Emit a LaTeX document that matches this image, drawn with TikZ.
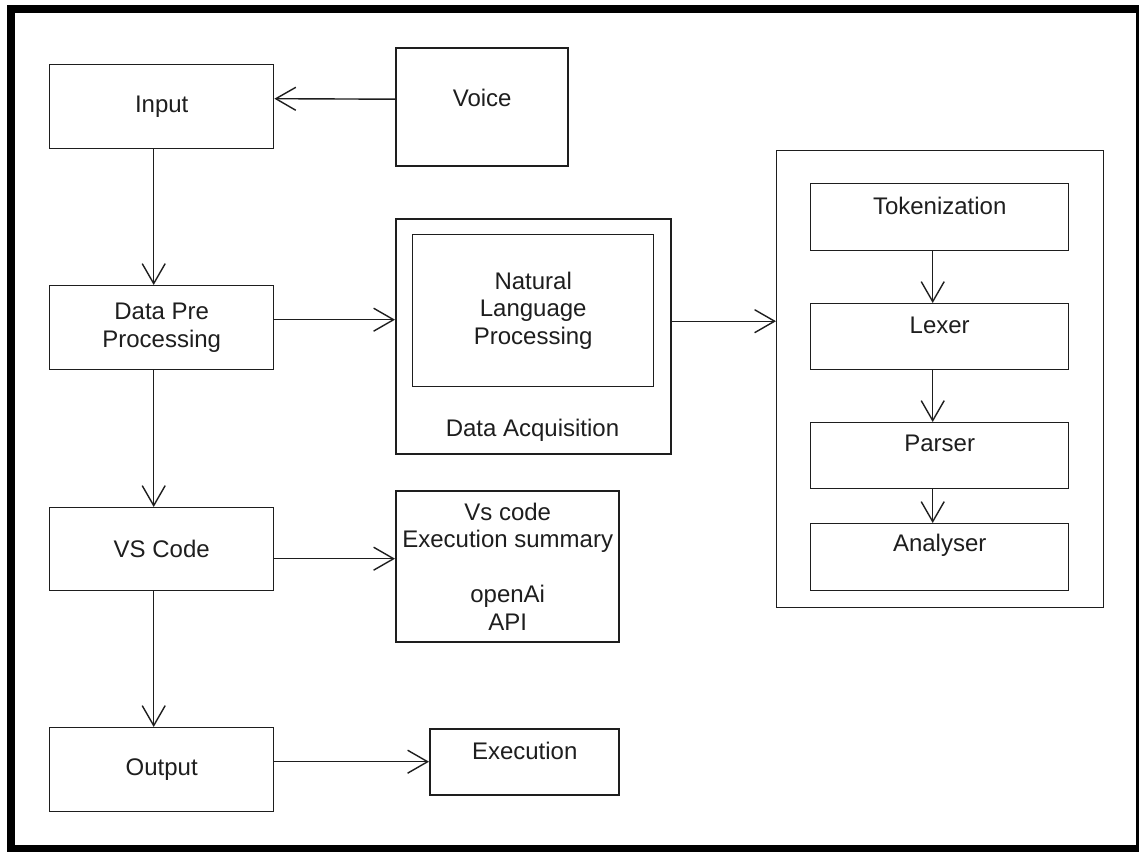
\documentclass[tikz,border=0pt]{standalone}
\usepackage{fontspec}
\setmainfont{Liberation Sans}
\usetikzlibrary{arrows.meta}
\definecolor{ink}{HTML}{1E1E1E}
\tikzset{
  box/.style={draw=ink, line width=1.4pt, rectangle, inner sep=0pt, anchor=north west, align=center, text=ink},
  boxb/.style={box, line width=2.4pt},
  txt/.style={inner sep=0pt, align=center, text=ink},
  arr/.style={draw=ink, line width=1.4pt, -{Straight Barb[length=20pt,width=23pt,line width=1.4pt]}},
}
\begin{document}
\begin{tikzpicture}[x=1pt,y=-1pt, font=\fontsize{24}{27.5}\selectfont]
\useasboundingbox (0,0) rectangle (1139,851);
\fill[white] (0,0) rectangle (1139,851);

% left column
\node[box, minimum width=224pt, minimum height=84pt] (input) at (49,64) {Input};
\node[box, minimum width=224pt, minimum height=84pt] (dpp) at (49,285) {Data Pre\\Processing};
\node[box, minimum width=224pt, minimum height=83pt] (vs) at (49,507) {VS Code};
\node[box, minimum width=224pt, minimum height=84pt] (out) at (49,727) {Output};

% voice
\node[boxb, minimum width=172pt, minimum height=118pt] (voice) at (395,47) {};
\node[txt] (voicet) at ([yshift=9pt]voice.center) {Voice};

% data acquisition
\node[boxb, minimum width=275pt, minimum height=235pt] (da) at (395,218) {};
\node[box, minimum width=241pt, minimum height=152pt] (nlp) at (412,234) {Natural\\Language\\Processing};
\node[txt] (dat) at (532.5,430) {Data Acquisition};

% vs code summary
\node[boxb, minimum width=223pt, minimum height=151pt] (sum) at (395,490) {Vs code\\Execution summary\\[27.5pt]openAi\\API};

% execution
\node[boxb, minimum width=189pt, minimum height=66pt] (exe) at (429,728) {};
\node[txt] (exet) at ([yshift=11pt]exe.center) {Execution};

% right container
\node[box, minimum width=327pt, minimum height=457pt] (cont) at (776,150) {};
\node[box, minimum width=258pt, minimum height=67pt] (tok) at (810,183) {};
\node[box, minimum width=258pt, minimum height=66pt] (lex) at (810,303) {};
\node[box, minimum width=258pt, minimum height=66pt] (par) at (810,422) {};
\node[box, minimum width=258pt, minimum height=67pt] (ana) at (810,523) {};
\node[txt] (tokt) at ([yshift=11.5pt]tok.center) {Tokenization};
\node[txt] (lext) at ([yshift=11pt]lex.center) {Lexer};
\node[txt] (part) at ([yshift=12pt]par.center) {Parser};
\node[txt] (anat) at ([yshift=11.5pt]ana.center) {Analyser};

% connectors
\draw[arr] ([yshift=8pt]voice.west) -- ([yshift=8pt]input.east);
\draw[arr] ([xshift=-8pt]input.south) -- ([xshift=-8pt]dpp.north);
\draw[arr] ([xshift=-8pt]dpp.south) -- ([xshift=-8pt]vs.north);
\draw[arr] ([xshift=-8pt]vs.south) -- ([xshift=-8pt]out.north);
\draw[arr] ([yshift=8pt]dpp.east) -- ([yshift=8pt]dpp.east -| da.west);
\draw[arr] ([yshift=15.5pt]da.east) -- ([yshift=15.5pt]da.east -| cont.west);
\draw[arr] ([yshift=-9.5pt]vs.east) -- ([yshift=-9.5pt]vs.east -| sum.west);
\draw[arr] ([yshift=8pt]out.east) -- ([yshift=8pt]out.east -| exe.west);
\draw[arr] ([xshift=-7pt]tok.south) -- ([xshift=-7pt]lex.north);
\draw[arr] ([xshift=-7pt]lex.south) -- ([xshift=-7pt]par.north);
\draw[arr] ([xshift=-7pt]par.south) -- ([xshift=-7pt]ana.north);

% outer frame
\draw[black, line width=8pt] (11,9) rectangle (1140,849);
\end{tikzpicture}
\end{document}
